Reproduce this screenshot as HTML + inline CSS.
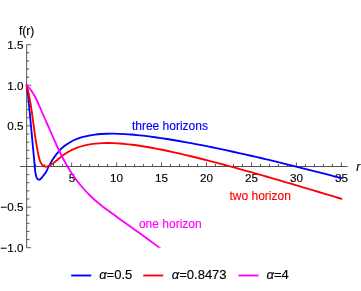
<!DOCTYPE html>
<html><head><meta charset="utf-8"><style>
html,body{margin:0;padding:0;background:#fff;}
body{width:361px;height:291px;overflow:hidden;position:relative;font-family:"Liberation Sans",sans-serif;}
</style></head><body>
<svg width="361" height="291" viewBox="0 0 361 291" style="position:absolute;left:0;top:0;will-change:transform">
<defs><clipPath id="pc"><rect x="20.3" y="44.6" width="327.4" height="203.2"/></clipPath></defs>
<g stroke="#4a4a4a" stroke-width="0.95" fill="none">
<line x1="26.65" y1="44.70" x2="26.65" y2="247.70"/>
<line x1="20.00" y1="166.50" x2="347.70" y2="166.50"/>
<line x1="26.65" y1="247.70" x2="31.05" y2="247.70" stroke="#333" stroke-width="0.8"/>
<line x1="26.65" y1="239.58" x2="29.45" y2="239.58" stroke="#333" stroke-width="0.8"/>
<line x1="26.65" y1="231.46" x2="29.45" y2="231.46" stroke="#333" stroke-width="0.8"/>
<line x1="26.65" y1="223.34" x2="29.45" y2="223.34" stroke="#333" stroke-width="0.8"/>
<line x1="26.65" y1="215.22" x2="29.45" y2="215.22" stroke="#333" stroke-width="0.8"/>
<line x1="26.65" y1="207.10" x2="31.05" y2="207.10" stroke="#333" stroke-width="0.8"/>
<line x1="26.65" y1="198.98" x2="29.45" y2="198.98" stroke="#333" stroke-width="0.8"/>
<line x1="26.65" y1="190.86" x2="29.45" y2="190.86" stroke="#333" stroke-width="0.8"/>
<line x1="26.65" y1="182.74" x2="29.45" y2="182.74" stroke="#333" stroke-width="0.8"/>
<line x1="26.65" y1="174.62" x2="29.45" y2="174.62" stroke="#333" stroke-width="0.8"/>
<line x1="26.65" y1="158.38" x2="29.45" y2="158.38" stroke="#333" stroke-width="0.8"/>
<line x1="26.65" y1="150.26" x2="29.45" y2="150.26" stroke="#333" stroke-width="0.8"/>
<line x1="26.65" y1="142.14" x2="29.45" y2="142.14" stroke="#333" stroke-width="0.8"/>
<line x1="26.65" y1="134.02" x2="29.45" y2="134.02" stroke="#333" stroke-width="0.8"/>
<line x1="26.65" y1="125.90" x2="31.05" y2="125.90" stroke="#333" stroke-width="0.8"/>
<line x1="26.65" y1="117.78" x2="29.45" y2="117.78" stroke="#333" stroke-width="0.8"/>
<line x1="26.65" y1="109.66" x2="29.45" y2="109.66" stroke="#333" stroke-width="0.8"/>
<line x1="26.65" y1="101.54" x2="29.45" y2="101.54" stroke="#333" stroke-width="0.8"/>
<line x1="26.65" y1="93.42" x2="29.45" y2="93.42" stroke="#333" stroke-width="0.8"/>
<line x1="26.65" y1="85.30" x2="31.05" y2="85.30" stroke="#333" stroke-width="0.8"/>
<line x1="26.65" y1="77.18" x2="29.45" y2="77.18" stroke="#333" stroke-width="0.8"/>
<line x1="26.65" y1="69.06" x2="29.45" y2="69.06" stroke="#333" stroke-width="0.8"/>
<line x1="26.65" y1="60.94" x2="29.45" y2="60.94" stroke="#333" stroke-width="0.8"/>
<line x1="26.65" y1="52.82" x2="29.45" y2="52.82" stroke="#333" stroke-width="0.8"/>
<line x1="26.65" y1="44.70" x2="31.05" y2="44.70" stroke="#333" stroke-width="0.8"/>
<line x1="35.64" y1="166.50" x2="35.64" y2="164.00" stroke="#333" stroke-width="0.8"/>
<line x1="44.64" y1="166.50" x2="44.64" y2="164.00" stroke="#333" stroke-width="0.8"/>
<line x1="53.63" y1="166.50" x2="53.63" y2="164.00" stroke="#333" stroke-width="0.8"/>
<line x1="62.62" y1="166.50" x2="62.62" y2="164.00" stroke="#333" stroke-width="0.8"/>
<line x1="71.62" y1="166.50" x2="71.62" y2="162.50" stroke="#333" stroke-width="0.8"/>
<line x1="80.61" y1="166.50" x2="80.61" y2="164.00" stroke="#333" stroke-width="0.8"/>
<line x1="89.60" y1="166.50" x2="89.60" y2="164.00" stroke="#333" stroke-width="0.8"/>
<line x1="98.59" y1="166.50" x2="98.59" y2="164.00" stroke="#333" stroke-width="0.8"/>
<line x1="107.59" y1="166.50" x2="107.59" y2="164.00" stroke="#333" stroke-width="0.8"/>
<line x1="116.58" y1="166.50" x2="116.58" y2="162.50" stroke="#333" stroke-width="0.8"/>
<line x1="125.57" y1="166.50" x2="125.57" y2="164.00" stroke="#333" stroke-width="0.8"/>
<line x1="134.57" y1="166.50" x2="134.57" y2="164.00" stroke="#333" stroke-width="0.8"/>
<line x1="143.56" y1="166.50" x2="143.56" y2="164.00" stroke="#333" stroke-width="0.8"/>
<line x1="152.55" y1="166.50" x2="152.55" y2="164.00" stroke="#333" stroke-width="0.8"/>
<line x1="161.55" y1="166.50" x2="161.55" y2="162.50" stroke="#333" stroke-width="0.8"/>
<line x1="170.54" y1="166.50" x2="170.54" y2="164.00" stroke="#333" stroke-width="0.8"/>
<line x1="179.53" y1="166.50" x2="179.53" y2="164.00" stroke="#333" stroke-width="0.8"/>
<line x1="188.52" y1="166.50" x2="188.52" y2="164.00" stroke="#333" stroke-width="0.8"/>
<line x1="197.52" y1="166.50" x2="197.52" y2="164.00" stroke="#333" stroke-width="0.8"/>
<line x1="206.51" y1="166.50" x2="206.51" y2="162.50" stroke="#333" stroke-width="0.8"/>
<line x1="215.50" y1="166.50" x2="215.50" y2="164.00" stroke="#333" stroke-width="0.8"/>
<line x1="224.50" y1="166.50" x2="224.50" y2="164.00" stroke="#333" stroke-width="0.8"/>
<line x1="233.49" y1="166.50" x2="233.49" y2="164.00" stroke="#333" stroke-width="0.8"/>
<line x1="242.48" y1="166.50" x2="242.48" y2="164.00" stroke="#333" stroke-width="0.8"/>
<line x1="251.48" y1="166.50" x2="251.48" y2="162.50" stroke="#333" stroke-width="0.8"/>
<line x1="260.47" y1="166.50" x2="260.47" y2="164.00" stroke="#333" stroke-width="0.8"/>
<line x1="269.46" y1="166.50" x2="269.46" y2="164.00" stroke="#333" stroke-width="0.8"/>
<line x1="278.45" y1="166.50" x2="278.45" y2="164.00" stroke="#333" stroke-width="0.8"/>
<line x1="287.45" y1="166.50" x2="287.45" y2="164.00" stroke="#333" stroke-width="0.8"/>
<line x1="296.44" y1="166.50" x2="296.44" y2="162.50" stroke="#333" stroke-width="0.8"/>
<line x1="305.43" y1="166.50" x2="305.43" y2="164.00" stroke="#333" stroke-width="0.8"/>
<line x1="314.43" y1="166.50" x2="314.43" y2="164.00" stroke="#333" stroke-width="0.8"/>
<line x1="323.42" y1="166.50" x2="323.42" y2="164.00" stroke="#333" stroke-width="0.8"/>
<line x1="332.41" y1="166.50" x2="332.41" y2="164.00" stroke="#333" stroke-width="0.8"/>
<line x1="341.40" y1="166.50" x2="341.40" y2="162.50" stroke="#333" stroke-width="0.8"/>
</g>
<line x1="71.20" y1="275.5" x2="91.20" y2="275.5" stroke="#0000ff" stroke-width="1.85"/>
<line x1="143.30" y1="275.5" x2="163.30" y2="275.5" stroke="#ff0000" stroke-width="1.85"/>
<line x1="238.50" y1="275.5" x2="258.50" y2="275.5" stroke="#ff00ff" stroke-width="1.85"/>
<text x="72.12" y="182.00" font-size="11.70" fill="#000" stroke="#000" stroke-width="0.15" text-anchor="middle" font-family="Liberation Sans, sans-serif" >5</text>
<text x="116.58" y="182.00" font-size="11.70" fill="#000" stroke="#000" stroke-width="0.15" text-anchor="middle" font-family="Liberation Sans, sans-serif" >10</text>
<text x="161.55" y="182.00" font-size="11.70" fill="#000" stroke="#000" stroke-width="0.15" text-anchor="middle" font-family="Liberation Sans, sans-serif" >15</text>
<text x="206.51" y="182.00" font-size="11.70" fill="#000" stroke="#000" stroke-width="0.15" text-anchor="middle" font-family="Liberation Sans, sans-serif" >20</text>
<text x="251.48" y="182.00" font-size="11.70" fill="#000" stroke="#000" stroke-width="0.15" text-anchor="middle" font-family="Liberation Sans, sans-serif" >25</text>
<text x="296.44" y="182.00" font-size="11.70" fill="#000" stroke="#000" stroke-width="0.15" text-anchor="middle" font-family="Liberation Sans, sans-serif" >30</text>
<text x="341.40" y="182.00" font-size="11.70" fill="#000" stroke="#000" stroke-width="0.15" text-anchor="middle" font-family="Liberation Sans, sans-serif" >35</text>
<text x="23.50" y="48.90" font-size="11.70" fill="#000" stroke="#000" stroke-width="0.15" text-anchor="end" font-family="Liberation Sans, sans-serif" >1.5</text>
<text x="23.50" y="89.50" font-size="11.70" fill="#000" stroke="#000" stroke-width="0.15" text-anchor="end" font-family="Liberation Sans, sans-serif" >1.0</text>
<text x="23.50" y="130.10" font-size="11.70" fill="#000" stroke="#000" stroke-width="0.15" text-anchor="end" font-family="Liberation Sans, sans-serif" >0.5</text>
<text x="23.50" y="211.30" font-size="11.70" fill="#000" stroke="#000" stroke-width="0.15" text-anchor="end" font-family="Liberation Sans, sans-serif" >−0.5</text>
<text x="23.50" y="251.90" font-size="11.70" fill="#000" stroke="#000" stroke-width="0.15" text-anchor="end" font-family="Liberation Sans, sans-serif" >−1.0</text>
<path d="M26.65 85.20 C26.86 86.67 27.52 90.87 27.90 94.00 C28.27 97.13 28.60 101.00 28.90 104.00 C29.20 107.00 29.37 108.50 29.70 112.00 C30.03 115.50 30.47 120.33 30.90 125.00 C31.33 129.67 31.83 135.00 32.30 140.00 C32.77 145.00 33.29 150.60 33.70 155.00 C34.11 159.40 34.48 163.57 34.75 166.40 C35.02 169.23 35.04 170.27 35.30 172.00 C35.56 173.73 35.93 175.65 36.30 176.80 C36.67 177.95 37.07 178.42 37.50 178.90 C37.93 179.38 38.40 179.68 38.90 179.70 C39.40 179.72 39.98 179.40 40.50 179.00 C41.02 178.60 41.48 177.92 42.00 177.30 C42.52 176.68 42.93 176.18 43.60 175.30 C44.27 174.42 45.13 173.48 46.00 172.00 C46.87 170.52 47.55 168.68 48.80 166.40 C50.05 164.12 51.80 160.85 53.50 158.30 C55.20 155.75 57.08 153.21 59.00 151.09 C60.92 148.98 63.00 147.17 65.00 145.60 C67.00 144.04 69.00 142.82 71.00 141.70 C73.00 140.59 75.00 139.71 77.00 138.91 C79.00 138.12 81.00 137.49 83.00 136.93 C85.00 136.37 87.00 135.93 89.00 135.54 C91.00 135.15 93.00 134.86 95.00 134.61 C97.00 134.36 99.00 134.18 101.00 134.04 C103.00 133.89 105.00 133.80 107.00 133.75 C109.00 133.69 111.00 133.68 113.00 133.69 C115.00 133.70 117.00 133.75 119.00 133.82 C121.00 133.89 123.00 133.99 125.00 134.11 C127.00 134.23 129.00 134.37 131.00 134.53 C133.00 134.69 135.00 134.87 137.00 135.07 C139.00 135.26 141.00 135.48 143.00 135.70 C145.00 135.93 147.00 136.17 149.00 136.42 C151.00 136.67 153.00 136.94 155.00 137.22 C157.00 137.49 159.00 137.78 161.00 138.08 C163.00 138.38 165.00 138.68 167.00 139.00 C169.00 139.31 171.00 139.64 173.00 139.97 C175.00 140.30 177.00 140.64 179.00 140.99 C181.00 141.34 183.00 141.69 185.00 142.05 C187.00 142.41 189.00 142.78 191.00 143.15 C193.00 143.53 195.00 143.91 197.00 144.29 C199.00 144.68 201.00 145.07 203.00 145.46 C205.00 145.86 207.00 146.26 209.00 146.66 C211.00 147.07 213.00 147.48 215.00 147.89 C217.00 148.31 219.00 148.73 221.00 149.15 C223.00 149.57 225.00 150.00 227.00 150.43 C229.00 150.86 231.00 151.29 233.00 151.73 C235.00 152.17 237.00 152.61 239.00 153.06 C241.00 153.50 243.00 153.95 245.00 154.40 C247.00 154.85 249.00 155.31 251.00 155.77 C253.00 156.22 255.00 156.69 257.00 157.15 C259.00 157.61 261.00 158.08 263.00 158.55 C265.00 159.02 267.00 159.49 269.00 159.97 C271.00 160.44 273.00 160.92 275.00 161.40 C277.00 161.88 279.00 162.37 281.00 162.85 C283.00 163.34 285.00 163.83 287.00 164.32 C289.00 164.81 291.00 165.30 293.00 165.80 C295.00 166.29 297.00 166.79 299.00 167.29 C301.00 167.79 303.00 168.29 305.00 168.80 C307.00 169.30 309.00 169.81 311.00 170.32 C313.00 170.82 315.00 171.34 317.00 171.85 C319.00 172.36 321.00 172.88 323.00 173.39 C325.00 173.91 327.00 174.43 329.00 174.95 C331.00 175.47 332.92 175.97 335.00 176.52 C337.08 177.06 340.42 177.94 341.50 178.23" stroke="#0000ff" stroke-width="1.85" fill="none" stroke-linejoin="round" stroke-linecap="round" clip-path="url(#pc)"/>
<path d="M26.65 85.20 C26.99 86.67 28.04 90.87 28.70 94.00 C29.36 97.13 30.08 101.00 30.60 104.00 C31.12 107.00 31.30 108.50 31.80 112.00 C32.30 115.50 32.95 120.33 33.60 125.00 C34.25 129.67 34.90 135.00 35.70 140.00 C36.50 145.00 37.65 151.42 38.40 155.00 C39.15 158.58 39.50 159.80 40.20 161.50 C40.90 163.20 41.65 164.33 42.60 165.20 C43.55 166.07 44.78 166.60 45.90 166.70 C47.02 166.80 47.78 166.62 49.30 165.80 C50.82 164.98 53.22 163.15 55.00 161.80 C56.78 160.45 58.17 159.08 60.00 157.67 C61.83 156.26 64.00 154.61 66.00 153.33 C68.00 152.04 70.00 150.93 72.00 149.95 C74.00 148.97 76.00 148.15 78.00 147.43 C80.00 146.71 82.00 146.12 84.00 145.61 C86.00 145.10 88.00 144.70 90.00 144.36 C92.00 144.02 94.00 143.77 96.00 143.57 C98.00 143.36 100.00 143.23 102.00 143.15 C104.00 143.06 106.00 143.03 108.00 143.03 C110.00 143.03 112.00 143.09 114.00 143.17 C116.00 143.25 118.00 143.37 120.00 143.52 C122.00 143.67 124.00 143.85 126.00 144.05 C128.00 144.25 130.00 144.48 132.00 144.73 C134.00 144.98 136.00 145.26 138.00 145.54 C140.00 145.83 142.00 146.14 144.00 146.47 C146.00 146.79 148.00 147.13 150.00 147.49 C152.00 147.84 154.00 148.21 156.00 148.59 C158.00 148.97 160.00 149.37 162.00 149.77 C164.00 150.18 166.00 150.59 168.00 151.02 C170.00 151.44 172.00 151.88 174.00 152.32 C176.00 152.76 178.00 153.21 180.00 153.67 C182.00 154.13 184.00 154.60 186.00 155.07 C188.00 155.55 190.00 156.03 192.00 156.51 C194.00 157.00 196.00 157.49 198.00 157.99 C200.00 158.49 202.00 158.99 204.00 159.50 C206.00 160.01 208.00 160.52 210.00 161.04 C212.00 161.56 214.00 162.08 216.00 162.61 C218.00 163.14 220.00 163.67 222.00 164.20 C224.00 164.74 226.00 165.27 228.00 165.82 C230.00 166.36 232.00 166.90 234.00 167.45 C236.00 168.00 238.00 168.55 240.00 169.10 C242.00 169.66 244.00 170.22 246.00 170.78 C248.00 171.34 250.00 171.90 252.00 172.46 C254.00 173.03 256.00 173.59 258.00 174.16 C260.00 174.73 262.00 175.30 264.00 175.88 C266.00 176.45 268.00 177.03 270.00 177.60 C272.00 178.18 274.00 178.76 276.00 179.34 C278.00 179.92 280.00 180.51 282.00 181.09 C284.00 181.67 286.00 182.26 288.00 182.85 C290.00 183.44 292.00 184.02 294.00 184.61 C296.00 185.21 298.00 185.80 300.00 186.39 C302.00 186.98 304.00 187.58 306.00 188.17 C308.00 188.77 310.00 189.36 312.00 189.96 C314.00 190.56 316.00 191.16 318.00 191.76 C320.00 192.36 322.00 192.96 324.00 193.56 C326.00 194.16 328.00 194.76 330.00 195.37 C332.00 195.97 334.08 196.60 336.00 197.18 C337.92 197.76 340.58 198.57 341.50 198.85" stroke="#ff0000" stroke-width="1.85" fill="none" stroke-linejoin="round" stroke-linecap="round" clip-path="url(#pc)"/>
<path d="M26.65 85.20 C26.86 85.42 27.46 86.03 27.88 86.50 C28.31 86.97 28.71 87.42 29.19 88.00 C29.67 88.58 30.17 89.17 30.77 90.00 C31.38 90.83 32.20 92.00 32.84 93.00 C33.48 94.00 33.98 94.83 34.62 96.00 C35.25 97.17 35.93 98.50 36.64 100.00 C37.36 101.50 38.16 103.33 38.90 105.00 C39.63 106.67 40.35 108.33 41.07 110.00 C41.80 111.67 42.53 113.33 43.26 115.00 C43.99 116.67 44.74 118.33 45.47 120.00 C46.21 121.67 46.95 123.33 47.69 125.00 C48.43 126.67 49.17 128.33 49.90 130.00 C50.63 131.67 51.35 133.33 52.08 135.00 C52.81 136.67 53.54 138.33 54.27 140.00 C55.01 141.67 55.75 143.33 56.51 145.00 C57.27 146.67 58.03 148.33 58.82 150.00 C59.61 151.67 60.41 153.33 61.25 155.00 C62.08 156.67 62.94 158.33 63.83 160.00 C64.72 161.67 65.64 163.33 66.60 165.00 C67.56 166.67 68.55 168.33 69.59 170.00 C70.64 171.67 71.72 173.33 72.86 175.00 C74.00 176.67 75.18 178.33 76.44 180.00 C77.69 181.67 78.99 183.33 80.37 185.00 C81.75 186.67 83.19 188.33 84.71 190.00 C86.23 191.67 87.81 193.33 89.49 195.00 C91.16 196.67 92.68 198.18 94.76 200.00 C96.85 201.82 99.79 204.19 102.00 205.93 C104.21 207.67 106.00 208.94 108.00 210.43 C110.00 211.92 112.00 213.40 114.00 214.86 C116.00 216.33 118.00 217.79 120.00 219.24 C122.00 220.68 124.00 222.12 126.00 223.55 C128.00 224.97 130.00 226.38 132.00 227.79 C134.00 229.20 136.00 230.58 138.00 231.99 C140.00 233.41 142.00 234.83 144.00 236.27 C146.00 237.72 148.00 239.18 150.00 240.65 C152.00 242.13 154.00 243.62 156.00 245.13 C158.00 246.64 160.00 248.16 162.00 249.70 C164.00 251.24 167.00 253.59 168.00 254.37" stroke="#ff00ff" stroke-width="1.85" fill="none" stroke-linejoin="round" stroke-linecap="round" clip-path="url(#pc)"/>
<text x="26.60" y="35.20" font-size="12.00" fill="#000" stroke="#000" stroke-width="0.15" text-anchor="middle" font-family="Liberation Sans, sans-serif" >f(r)</text>
<text x="358.30" y="171.00" font-size="12.00" fill="#000" stroke="#000" stroke-width="0.15" text-anchor="middle" font-family="Liberation Sans, sans-serif" font-style="italic">r</text>
<text x="169.90" y="130.20" font-size="12.00" fill="#0000ff" stroke="#0000ff" stroke-width="0.15" text-anchor="middle" font-family="Liberation Sans, sans-serif" >three horizons</text>
<text x="260.20" y="199.50" font-size="12.00" fill="#ff0000" stroke="#ff0000" stroke-width="0.15" text-anchor="middle" font-family="Liberation Sans, sans-serif" >two horizon</text>
<text x="170.30" y="228.40" font-size="12.00" fill="#ff00ff" stroke="#ff00ff" stroke-width="0.15" text-anchor="middle" font-family="Liberation Sans, sans-serif" >one horizon</text>
<text x="99.20" y="279.20" font-size="13" fill="#000" stroke="#000" stroke-width="0.15" font-family="Liberation Sans, sans-serif"><tspan font-style="italic">α</tspan>=0.5</text>
<text x="171.80" y="279.20" font-size="13" fill="#000" stroke="#000" stroke-width="0.15" font-family="Liberation Sans, sans-serif"><tspan font-style="italic">α</tspan>=0.8473</text>
<text x="266.60" y="279.20" font-size="13" fill="#000" stroke="#000" stroke-width="0.15" font-family="Liberation Sans, sans-serif"><tspan font-style="italic">α</tspan>=4</text>
</svg>
</body></html>
